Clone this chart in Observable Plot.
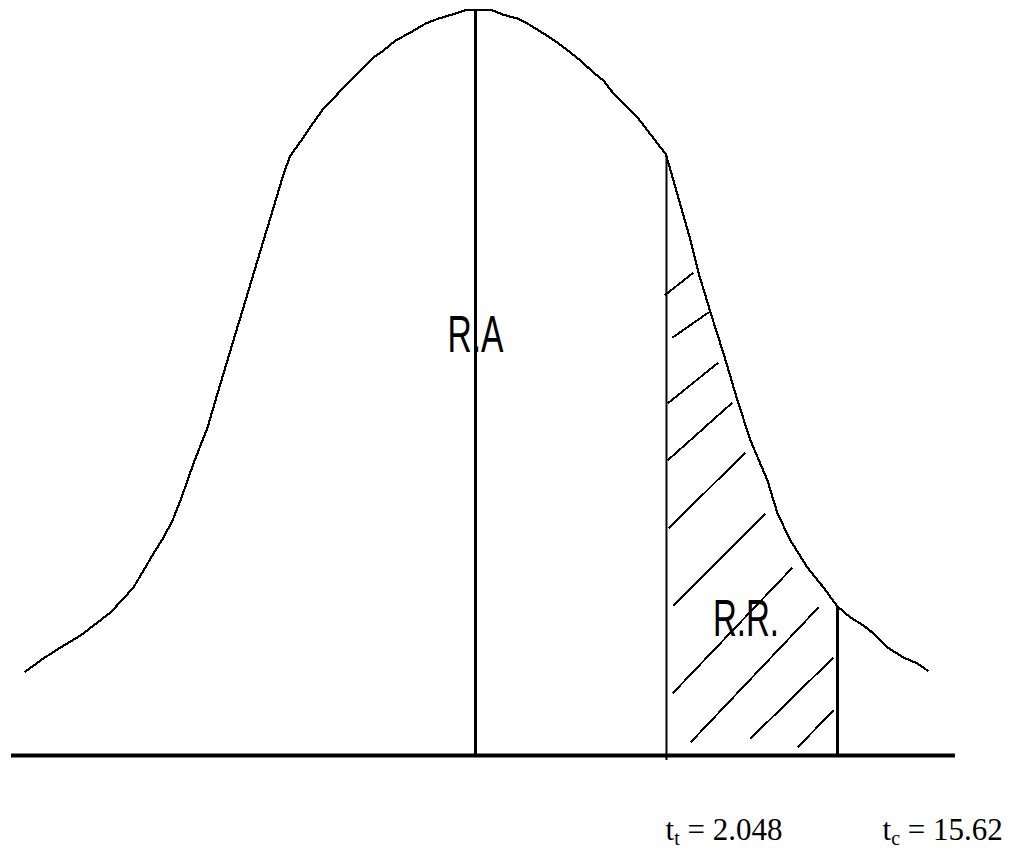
<!DOCTYPE html>
<html>
<head>
<meta charset="utf-8">
<script src="https://cdn.jsdelivr.net/npm/d3@7"></script>
<script src="https://cdn.jsdelivr.net/npm/@observablehq/plot@0.6"></script>
<style>
  html, body { margin: 0; padding: 0; background: #ffffff; }
  #chart svg { display: block; }
</style>
</head>
<body>
<div id="chart"></div>
<script>
// ---- Data (x in t units, y in density-like units) ----
const curveT = [
  -4.826, -4.633, -4.450, -4.236, -4.054, -3.914, -3.775, -3.668, -3.560, -3.453,
  -3.346, -3.249, -3.164, -3.024, -2.874, -2.735, -2.606, -2.466, -2.338, -2.198,
  -2.070, -1.995,
  -1.962, -1.845, -1.737, -1.630, -1.523, -1.416, -1.308, -1.201, -1.094, -0.987,
  -0.858, -0.697, -0.536, -0.397, -0.247, -0.086, 0.161, 0.290, 0.450, 0.558,
  0.729, 0.879, 1.019, 1.126, 1.265, 1.373, 1.480, 1.630, 1.737, 1.845, 1.952, 2.038,
  2.070, 2.306, 2.391, 2.520, 2.660, 2.810, 2.949, 3.131, 3.239, 3.378, 3.560, 3.732,
  3.882, 4.021, 4.161, 4.268, 4.418, 4.590, 4.740, 4.847
];
const curveD = [
  0.0451, 0.0521, 0.0580, 0.0644, 0.0714, 0.0768, 0.0843, 0.0902, 0.0993, 0.1085,
  0.1170, 0.1262, 0.1369, 0.1568, 0.1761, 0.1997, 0.2212, 0.2443, 0.2658, 0.2889,
  0.3103, 0.3211,
  0.3238, 0.3318, 0.3399, 0.3474, 0.3528, 0.3587, 0.3640, 0.3694, 0.3748, 0.3785,
  0.3839, 0.3882, 0.3930, 0.3957, 0.3979, 0.4005, 0.4005, 0.3979, 0.3957, 0.3930,
  0.3877, 0.3828, 0.3774, 0.3732, 0.3667, 0.3624, 0.3554, 0.3479, 0.3426, 0.3356, 0.3286, 0.3232,
  0.3179, 0.2765, 0.2593, 0.2379, 0.2158, 0.1906, 0.1691, 0.1477, 0.1299, 0.1154, 0.1009, 0.0902,
  0.0800, 0.0741, 0.0698, 0.0655, 0.0580, 0.0526, 0.0494, 0.0456
];

// critical values
const tTable = 2.048;
const tCalc = 15.62;
const tCalcDrawnAt = 3.882;   // where t_c is drawn (diagram not to scale)
const peakD = 0.4005;
const tTableLineTop = 0.3221;
const tTableLineBottom = -0.0027;
const tCalcLineTop = 0.0795;
const baseFrom = -4.976, baseTo = 5.147;

// hatch segments of the rejection region
const hatchT1 = [2.027, 2.113, 2.059, 2.059, 2.070, 2.123, 2.113, 2.306, 2.949, 3.453];
const hatchD1 = [0.2470, 0.2244, 0.1890, 0.1584, 0.1219, 0.0805, 0.0333, 0.0070, 0.0091, 0.0043];
const hatchT2 = [2.338, 2.499, 2.606, 2.756, 2.895, 3.110, 3.400, 3.678, 3.839, 3.839];
const hatchD2 = [0.2593, 0.2379, 0.2110, 0.1895, 0.1627, 0.1299, 0.1009, 0.0795, 0.0526, 0.0242];

// region labels
const regionLabels = ["R.A", "R.R."];
const regionT = [0, 2.901];
const regionD = [0.2164, 0.0644];

// bottom labels
const labelSym = ["t", "t"];
const labelSub = ["t", "c"];
const labelVal = [tTable, tCalc];
const labelT = [2.038, 4.365];
const labelD = -0.0456;

// ---- Build tables ----
const curve = curveT.map((t, i) => ({t, d: curveD[i]}));
const hatch = hatchT1.map((t, i) => ({t1: t, d1: hatchD1[i], t2: hatchT2[i], d2: hatchD2[i]}));
const regions = regionLabels.map((s, i) => ({s, t: regionT[i], d: regionD[i]}));
const labels = labelSym.map((s, i) => ({text: `${s}|${labelSub[i]}| = ${labelVal[i]}`, t: labelT[i], d: labelD}));

const chart = Plot.plot({
  width: 1013,
  height: 852,
  margin: 0,
  style: {background: "#ffffff"},
  x: {domain: [-5.0938, 5.7694], range: [0, 1013], axis: null},
  y: {domain: [-0.0521, 0.4054], range: [852, 0], axis: null},
  marks: [
    Plot.link(hatch, {x1: "t1", y1: "d1", x2: "t2", y2: "d2", stroke: "#000", strokeWidth: 2, shapeRendering: "crispEdges"}),
    Plot.line(curve, {x: "t", y: "d", stroke: "#000", strokeWidth: 2.2, curve: "linear", shapeRendering: "crispEdges"}),
    Plot.ruleX([0], {y1: 0, y2: peakD, stroke: "#000", strokeWidth: 3}),
    Plot.ruleX([tTable], {y1: tTableLineBottom, y2: tTableLineTop, stroke: "#000", strokeWidth: 2}),
    Plot.ruleX([tCalcDrawnAt], {y1: 0, y2: tCalcLineTop, stroke: "#000", strokeWidth: 3}),
    Plot.ruleY([0], {x1: baseFrom, x2: baseTo, stroke: "#000", strokeWidth: 4}),
    Plot.text(regions, {x: "t", y: "d", text: "s", fill: "#000", fontSize: 52, fontFamily: "Liberation Sans, Arial, sans-serif", textAnchor: "middle", lineAnchor: "bottom"}),
    Plot.text(labels, {x: "t", y: "d", text: "text", fill: "#000", fontSize: 31, fontFamily: "Liberation Serif, Times New Roman, serif", textAnchor: "start", lineAnchor: "bottom"})
  ]
});

document.getElementById("chart").appendChild(chart);

// squeeze region labels to the narrow look of the original; add subscripts
const widths = {"R.A": 56, "R.R.": 66};
d3.select(chart).selectAll("text").each(function() {
  const el = d3.select(this);
  const txt = this.textContent;
  if (widths[txt]) {
    el.attr("textLength", widths[txt]).attr("lengthAdjust", "spacingAndGlyphs");
  } else if (txt.includes("|")) {
    const [a, b, c] = txt.split("|");
    el.text(null);
    el.append("tspan").text(a);
    el.append("tspan").attr("font-size", 20).attr("dy", 5).text(b);
    el.append("tspan").attr("dy", -5).text(c);
  }
});
</script>
</body>
</html>
